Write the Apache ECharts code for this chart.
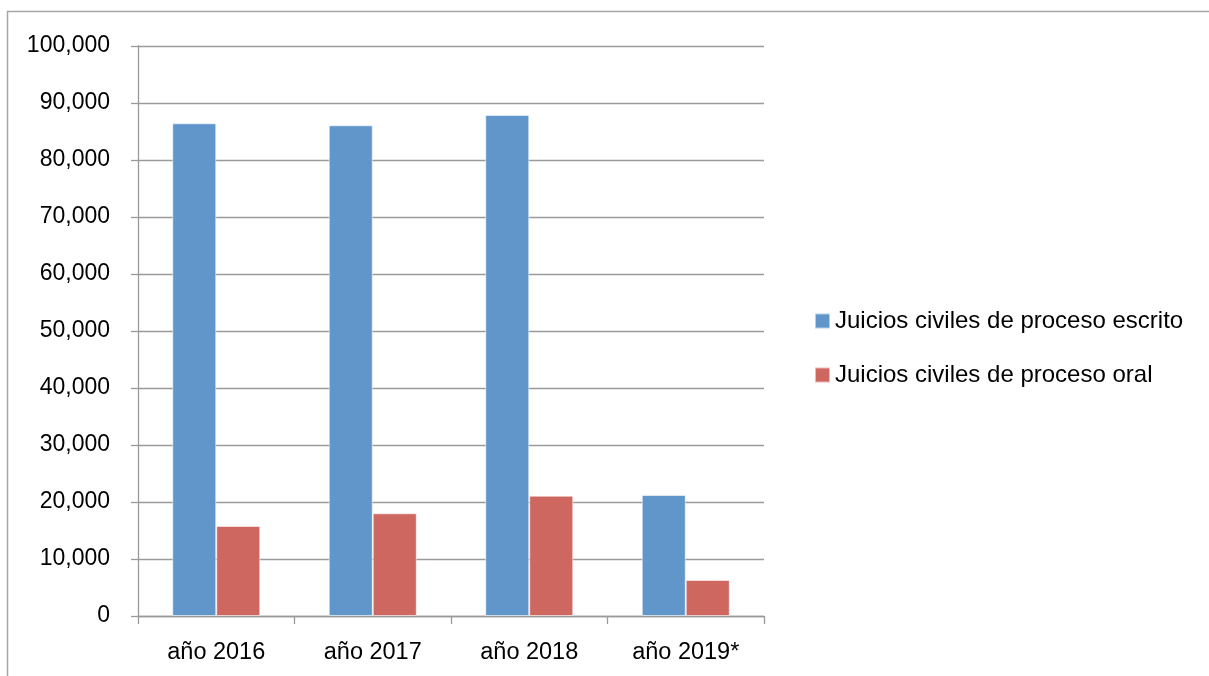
<!DOCTYPE html>
<html>
<head>
<meta charset="utf-8">
<script src="https://cdn.jsdelivr.net/npm/echarts@6/dist/echarts.min.js"></script>
<style>
html,body{margin:0;padding:0;background:#fff;}
#chart{width:1209px;height:676px;}
</style>
</head>
<body>
<div id="chart"></div>
<script>
const categories = ['año 2016', 'año 2017', 'año 2018', 'año 2019*'];
const seriesNames = ['Juicios civiles de proceso escrito', 'Juicios civiles de proceso oral'];
const escrito = [86440, 86090, 87890, 21230];
const oral = [15790, 18020, 21110, 6320];
const yTicks = { min: 0, max: 100000, interval: 10000 };

const chart = echarts.init(document.getElementById('chart'));
const font = 'Liberation Sans, Arial, sans-serif';
const gray = '#9A9A9A';
chart.setOption({
  animation: false,
  backgroundColor: '#fff',
  textStyle: { fontFamily: font },
  graphic: [{
    type: 'rect',
    shape: { x: 7.5, y: 11.5, width: 1300, height: 700 },
    style: { fill: 'none', stroke: '#A6A6A6', lineWidth: 1.5 },
    silent: true
  }],
  grid: { left: 138, right: 445, top: 46, bottom: 60, containLabel: false },
  legend: {
    orient: 'vertical',
    left: 814,
    top: 309,
    padding: 0,
    itemWidth: 15,
    itemHeight: 15,
    itemGap: 30,
    icon: 'rect',
    textStyle: { fontFamily: font, fontSize: 24, color: '#000', lineHeight: 24 },
    data: seriesNames
  },
  xAxis: {
    type: 'category',
    data: categories,
    boundaryGap: true,
    axisLine: { show: true, lineStyle: { color: gray, width: 1.3 } },
    axisTick: { show: true, length: 8, alignWithLabel: false, lineStyle: { color: gray, width: 1.3 } },
    axisLabel: { fontFamily: font, fontSize: 23.5, color: '#000', margin: 25 },
    splitLine: { show: false }
  },
  yAxis: {
    type: 'value',
    min: yTicks.min,
    max: yTicks.max,
    interval: yTicks.interval,
    axisLine: { show: true, lineStyle: { color: gray, width: 1.3 } },
    axisTick: { show: true, length: 7, lineStyle: { color: gray, width: 1.3 } },
    axisLabel: {
      fontFamily: font, fontSize: 23, color: '#000', margin: 28,
      formatter: v => v.toLocaleString('en-US')
    },
    splitLine: { show: true, lineStyle: { color: gray, width: 1.3 } }
  },
  series: [
    {
      name: seriesNames[0], type: 'bar', data: escrito,
      barWidth: 44, barGap: '0%',
      itemStyle: { color: '#6096CA', borderColor: 'rgba(255,255,255,0.55)', borderWidth: 1 }
    },
    {
      name: seriesNames[1], type: 'bar', data: oral,
      barWidth: 44, barGap: '0%',
      itemStyle: { color: '#CE6760', borderColor: 'rgba(255,255,255,0.55)', borderWidth: 1 }
    }
  ]
});
</script>
</body>
</html>
